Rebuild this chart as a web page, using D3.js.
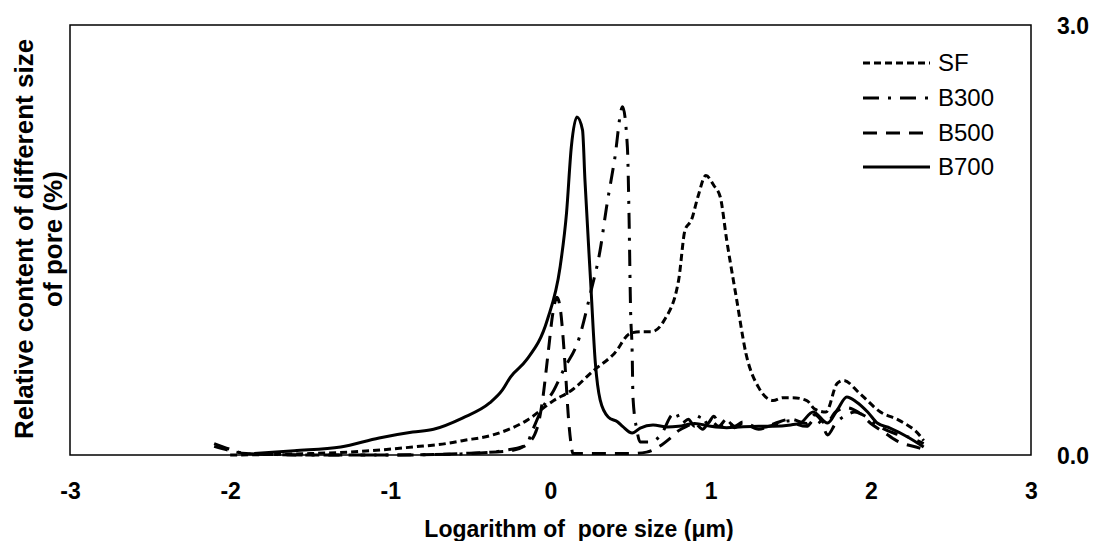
<!DOCTYPE html>
<html>
<head>
<meta charset="utf-8">
<script src="https://cdn.jsdelivr.net/npm/d3@7"></script>
<style>
  html, body { margin: 0; padding: 0; background: #fff; }
  svg { display: block; font-family: "Liberation Sans", Arial, sans-serif; }
</style>
</head>
<body>
<svg id="chart" width="1096" height="541"></svg>
<script>
// x = log of pore size (um), y = relative content (%)
const sfX = [-2.0, -1.5, -1.27, -1.06, -0.86, -0.65, -0.55, -0.36, -0.15, 0.02, 0.13, 0.27, 0.4, 0.5, 0.57, 0.63, 0.71, 0.8, 0.84, 0.88, 0.92, 0.97, 1.02, 1.06, 1.1, 1.16, 1.22, 1.3, 1.39, 1.45, 1.51, 1.6, 1.65, 1.72, 1.79, 1.83, 1.93, 2.06, 2.18, 2.31, 2.33];
const sfY = [0.0, 0.01, 0.02, 0.035, 0.056, 0.08, 0.1, 0.14, 0.24, 0.38, 0.45, 0.59, 0.71, 0.85, 0.86, 0.86, 0.94, 1.22, 1.57, 1.64, 1.8, 1.95, 1.88, 1.8, 1.5, 1.1, 0.71, 0.47, 0.38, 0.4, 0.4, 0.38, 0.32, 0.3, 0.5, 0.52, 0.43, 0.3, 0.24, 0.13, 0.1];

const b300X = [-2.1, -2.0, -1.9, -1.5, -1.0, -0.5, -0.3, -0.15, -0.12, -0.05, 0.02, 0.08, 0.18, 0.25, 0.31, 0.35, 0.4, 0.45, 0.48, 0.49, 0.5, 0.51, 0.515, 0.54, 0.56, 0.62, 0.7, 0.75, 0.78, 0.82, 0.86, 0.9, 0.94, 0.98, 1.02, 1.06, 1.1, 1.15, 1.2, 1.3, 1.4, 1.5, 1.55, 1.6, 1.65, 1.7, 1.73, 1.78, 1.85, 1.9, 1.95, 2.05, 2.15, 2.25, 2.33];
const b300Y = [0.08, 0.04, 0.01, 0.0, 0.0, 0.01, 0.03, 0.07, 0.15, 0.33, 0.45, 0.59, 0.82, 1.13, 1.43, 1.73, 2.06, 2.43, 2.15, 1.69, 1.01, 0.71, 0.4, 0.17, 0.09, 0.09, 0.16, 0.27, 0.3, 0.22, 0.25, 0.2, 0.28, 0.22, 0.27, 0.2, 0.24, 0.2, 0.23, 0.19, 0.21, 0.24, 0.21, 0.2, 0.25, 0.2, 0.14, 0.22, 0.28, 0.3, 0.28, 0.2, 0.15, 0.12, 0.08];

const b500X = [-2.1, -2.0, -1.9, -1.5, -1.0, -0.57, -0.25, -0.15, -0.08, -0.05, -0.015, 0.015, 0.04, 0.06, 0.08, 0.097, 0.11, 0.128, 0.14, 0.3, 0.5, 0.6, 0.68, 0.75, 0.8, 0.85, 0.9, 0.95, 1.0, 1.05, 1.1, 1.15, 1.2, 1.3, 1.4, 1.5, 1.6, 1.65, 1.72, 1.78, 1.85, 1.92, 2.0, 2.08, 2.16, 2.3, 2.33];
const b500Y = [0.06, 0.03, 0.01, 0.0, 0.0, 0.01, 0.03, 0.07, 0.2, 0.38, 0.71, 0.99, 1.1, 1.03, 0.8, 0.52, 0.29, 0.08, 0.01, 0.01, 0.01, 0.02, 0.06, 0.12, 0.17, 0.2, 0.22, 0.18, 0.24, 0.2, 0.25, 0.19, 0.22, 0.18, 0.22, 0.25, 0.22, 0.28, 0.22, 0.3, 0.33, 0.3, 0.22, 0.16, 0.1, 0.05, 0.04];

const b700X = [-1.85, -1.6, -1.31, -1.07, -0.86, -0.73, -0.55, -0.38, -0.3, -0.25, -0.15, -0.02, 0.06, 0.1, 0.13, 0.165, 0.2, 0.215, 0.25, 0.28, 0.31, 0.36, 0.42, 0.45, 0.51, 0.56, 0.64, 0.73, 0.8, 0.9, 1.0, 1.1, 1.18, 1.3, 1.39, 1.5, 1.56, 1.64, 1.73, 1.79, 1.85, 1.91, 1.98, 2.04, 2.12, 2.23, 2.33];
const b700Y = [0.01, 0.03, 0.056, 0.119, 0.16, 0.18, 0.258, 0.363, 0.454, 0.544, 0.663, 0.942, 1.312, 1.688, 2.149, 2.358, 2.267, 1.919, 1.221, 0.642, 0.384, 0.265, 0.23, 0.2, 0.153, 0.188, 0.209, 0.195, 0.2, 0.22, 0.2, 0.19, 0.195, 0.2, 0.2, 0.21, 0.223, 0.3, 0.223, 0.314, 0.405, 0.37, 0.3, 0.223, 0.188, 0.126, 0.056];

const seriesNames = ["SF", "B300", "B500", "B700"];
const xTicks = [-3, -2, -1, 0, 1, 2, 3];
const yTicks = [0, 3];

const dashes = {
    "SF": "7,4",
    "B300": "16,9,3,9",
    "B500": "14,9",
    "B700": null
};

const series = [
    { name: "SF", x: sfX, y: sfY },
    { name: "B300", x: b300X, y: b300Y },
    { name: "B500", x: b500X, y: b500Y },
    { name: "B700", x: b700X, y: b700Y }
];

const svg = d3.select("#chart");
const margin = { top: 25, right: 65, bottom: 86, left: 70 };
const width = 1096, height = 541;

const xScale = d3.scaleLinear().domain([-3, 3]).range([margin.left, width - margin.right]);
const yScale = d3.scaleLinear().domain([0, 3]).range([height - margin.bottom, margin.top]);

// curves
const line = d3.line()
    .x(d => xScale(d[0]))
    .y(d => yScale(d[1]))
    .curve(d3.curveMonotoneX);

series.forEach(s => {
    const pts = s.x.map((v, i) => [v, s.y[i]]);
    svg.append("path")
        .datum(pts)
        .attr("fill", "none")
        .attr("stroke", "#000")
        .attr("stroke-width", 3)
        .attr("stroke-linejoin", "round")
        .attr("stroke-dasharray", dashes[s.name])
        .attr("d", line);
});

// plot frame
svg.append("rect")
    .attr("x", xScale(-3))
    .attr("y", yScale(3))
    .attr("width", xScale(3) - xScale(-3))
    .attr("height", yScale(0) - yScale(3))
    .attr("fill", "none")
    .attr("stroke", "#000")
    .attr("stroke-width", 1.5);

// bottom axis
const xAxis = svg.append("g")
    .attr("transform", `translate(0,${yScale(0)})`)
    .call(d3.axisBottom(xScale).tickValues(xTicks).tickSize(0).tickPadding(28).tickFormat(d3.format("d")));
xAxis.select(".domain").remove();
xAxis.selectAll("text")
    .attr("font-size", 23)
    .attr("font-weight", "bold")
    .attr("fill", "#000")
    .attr("font-family", "Liberation Sans, Arial, sans-serif")
    .text(d => d < 0 ? "-" + Math.abs(d) : d);

// right axis labels
const yAxis = svg.append("g")
    .attr("transform", `translate(${xScale(3) + 26},0)`)
    .call(d3.axisRight(yScale).tickValues(yTicks).tickSize(0).tickPadding(0).tickFormat(d3.format(".1f")));
yAxis.select(".domain").remove();
yAxis.selectAll("text")
    .attr("font-size", 23)
    .attr("font-weight", "bold")
    .attr("fill", "#000")
    .attr("font-family", "Liberation Sans, Arial, sans-serif")
    .attr("dy", "0.35em");

// axis titles
svg.append("text")
    .attr("x", 579)
    .attr("y", 537)
    .attr("text-anchor", "middle")
    .attr("font-size", 23)
    .attr("font-weight", "bold")
    .style("white-space", "pre")
    .text("Logarithm of  pore size (\u03bcm)");

const yTitle = svg.append("text")
    .attr("transform", "translate(33,239) rotate(-90)")
    .attr("text-anchor", "middle")
    .attr("font-size", 26)
    .attr("font-weight", "bold");
yTitle.append("tspan").attr("x", 0).attr("y", 0).text("Relative content of different size");
yTitle.append("tspan").attr("x", 0).attr("y", 29).text("of pore (%)");

// legend
const legendY = [63, 98, 133, 167];
const legend = svg.append("g");
seriesNames.forEach((name, i) => {
    legend.append("line")
        .attr("x1", 863).attr("x2", 930)
        .attr("y1", legendY[i]).attr("y2", legendY[i])
        .attr("stroke", "#000")
        .attr("stroke-width", 3)
        .attr("stroke-dasharray", dashes[name]);
    legend.append("text")
        .attr("x", 938)
        .attr("y", legendY[i])
        .attr("dy", "0.35em")
        .attr("font-size", 24)
        .text(name);
});
</script>
</body>
</html>
